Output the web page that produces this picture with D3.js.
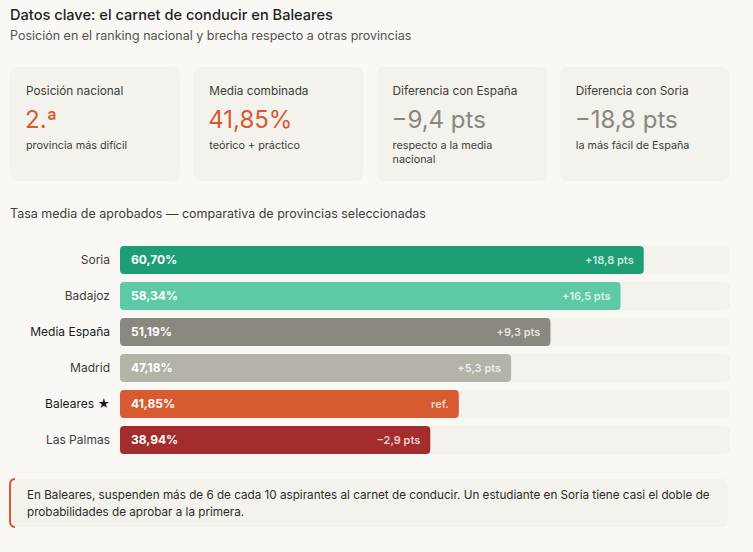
<!DOCTYPE html>
<html>
<head>
<meta charset="utf-8">
<script src="https://cdn.jsdelivr.net/npm/d3@7"></script>
<style>
  body { margin: 0; background: #f9f8f5; }
  svg { display: block; font-family: Inter, "Open Sans", sans-serif; }
</style>
</head>
<body>
<div id="chart"></div>
<script>
// cards
const cardLabels = ["Posición nacional", "Media combinada", "Diferencia con España", "Diferencia con Soria"];
const cardValues = ["2.ª", "41,85%", "−9,4 pts", "−18,8 pts"];
const cardNotes = [["provincia más difícil"], ["teórico + práctico"], ["respecto a la media", "nacional"], ["la más fácil de España"]];
const cardAccent = [true, true, false, false];

// bars
const provinces = ["Soria", "Badajoz", "Media España", "Madrid", "Baleares ★", "Las Palmas"];
const passRates = [60.70, 58.34, 51.19, 47.18, 41.85, 38.94];
const gapLabels = ["+18,8 pts", "+16,5 pts", "+9,3 pts", "+5,3 pts", "ref.", "−2,9 pts"];
const highlighted = ["Media España", "Baleares ★"];
const barColors = ["#1d9e75", "#5dcaa5", "#888780", "#b4b2a9", "#d85a30", "#a32d2d"];

const W = 753, H = 552;
const svg = d3.select("#chart").append("svg").attr("width", W).attr("height", H);

svg.append("rect").attr("width", W).attr("height", H).attr("fill", "#f9f8f5");

// header
svg.append("text").attr("x", 10).attr("y", 20)
   .attr("font-size", 14.6).attr("font-weight", 500).attr("fill", "#1f1f1d")
   .text("Datos clave: el carnet de conducir en Baleares");
svg.append("text").attr("x", 10).attr("y", 40)
   .attr("font-size", 12.5).attr("fill", "#55534e")
   .text("Posición en el ranking nacional y brecha respecto a otras provincias");

// metric cards
let cardX = d3.scaleBand().domain(d3.range(cardLabels.length)).range([10, 730]).paddingInner(13 / 183);
let cards = svg.selectAll("g.card").data(cardLabels).enter().append("g")
   .attr("class", "card")
   .attr("transform", (d, i) => "translate(" + cardX(i) + ",67)");
cards.append("rect").attr("width", cardX.bandwidth()).attr("height", 114).attr("rx", 8).attr("fill", "#f3f2ec");
cards.append("text").attr("x", 16).attr("y", 28)
   .attr("font-size", 11.8).attr("fill", "#3d3d3a").text(d => d);
cards.append("text").attr("x", 15).attr("y", 61)
   .attr("font-size", 24).attr("fill", (d, i) => cardAccent[i] ? "#d85a30" : "#888780")
   .text((d, i) => cardValues[i]);
cards.append("text").attr("x", 16).attr("y", 82)
   .attr("font-size", 10.8).attr("fill", "#3d3d3a")
   .selectAll("tspan").data((d, i) => cardNotes[i]).enter().append("tspan")
   .attr("x", 16).attr("dy", (d, j) => j === 0 ? 0 : 14).text(d => d);

// section title
svg.append("text").attr("x", 10).attr("y", 218)
   .attr("font-size", 12.5).attr("fill", "#3d3d3a")
   .text("Tasa media de aprobados — comparativa de provincias seleccionadas");

// bar chart
let xScale = d3.scaleLinear().domain([7.3, 69.5]).range([120, 730]);
let yScale = d3.scaleBand().domain(provinces).range([242, 458])
   .paddingInner(8 / 36).paddingOuter(4 / 36);

let rows = svg.selectAll("g.row").data(provinces).enter().append("g")
   .attr("class", "row")
   .attr("transform", d => "translate(0," + yScale(d) + ")");

rows.append("rect").attr("x", xScale.range()[0]).attr("width", xScale.range()[1] - xScale.range()[0])
   .attr("height", yScale.bandwidth()).attr("rx", 4).attr("fill", "#f3f2ec");

rows.append("rect").attr("x", xScale.range()[0])
   .attr("width", (d, i) => xScale(passRates[i]) - xScale.range()[0])
   .attr("height", yScale.bandwidth()).attr("rx", 4)
   .attr("fill", (d, i) => barColors[i]);

rows.append("text").attr("x", 110).attr("y", yScale.bandwidth() / 2).attr("dy", "0.35em")
   .attr("text-anchor", "end").attr("font-size", 12)
   .attr("fill", d => highlighted.includes(d) ? "#1a1a18" : "#3d3d3a")
   .text(d => d);

rows.append("text").attr("x", xScale.range()[0] + 11).attr("y", yScale.bandwidth() / 2).attr("dy", "0.35em")
   .attr("font-size", 12).attr("font-weight", 700).attr("fill", "#fff")
   .text((d, i) => d3.format(".2f")(passRates[i]).replace(".", ",") + "%");

rows.append("text").attr("x", (d, i) => xScale(passRates[i]) - 10)
   .attr("y", yScale.bandwidth() / 2).attr("dy", "0.35em")
   .attr("text-anchor", "end").attr("font-size", 11).attr("font-weight", 600)
   .attr("fill", "#fff").attr("fill-opacity", 0.78)
   .text((d, i) => gapLabels[i]);

// note box
let note = svg.append("g").attr("transform", "translate(10,479)");
note.append("rect").attr("width", 718).attr("height", 48).attr("rx", 6).attr("fill", "#f3f2ec");
note.append("path").attr("d", "M5,0 Q0,0 0,6 L0,42 Q0,48 5,48")
   .attr("fill", "none").attr("stroke", "#d85a30").attr("stroke-width", 2);
note.append("text").attr("x", 17).attr("y", 20)
   .attr("font-size", 11.7).attr("fill", "#2c2c2a")
   .selectAll("tspan")
   .data(["En Baleares, suspenden más de 6 de cada 10 aspirantes al carnet de conducir. Un estudiante en Soria tiene casi el doble de",
          "probabilidades de aprobar a la primera."])
   .enter().append("tspan").attr("x", 17).attr("dy", (d, j) => j === 0 ? 0 : 17).text(d => d);
</script>
</body>
</html>
